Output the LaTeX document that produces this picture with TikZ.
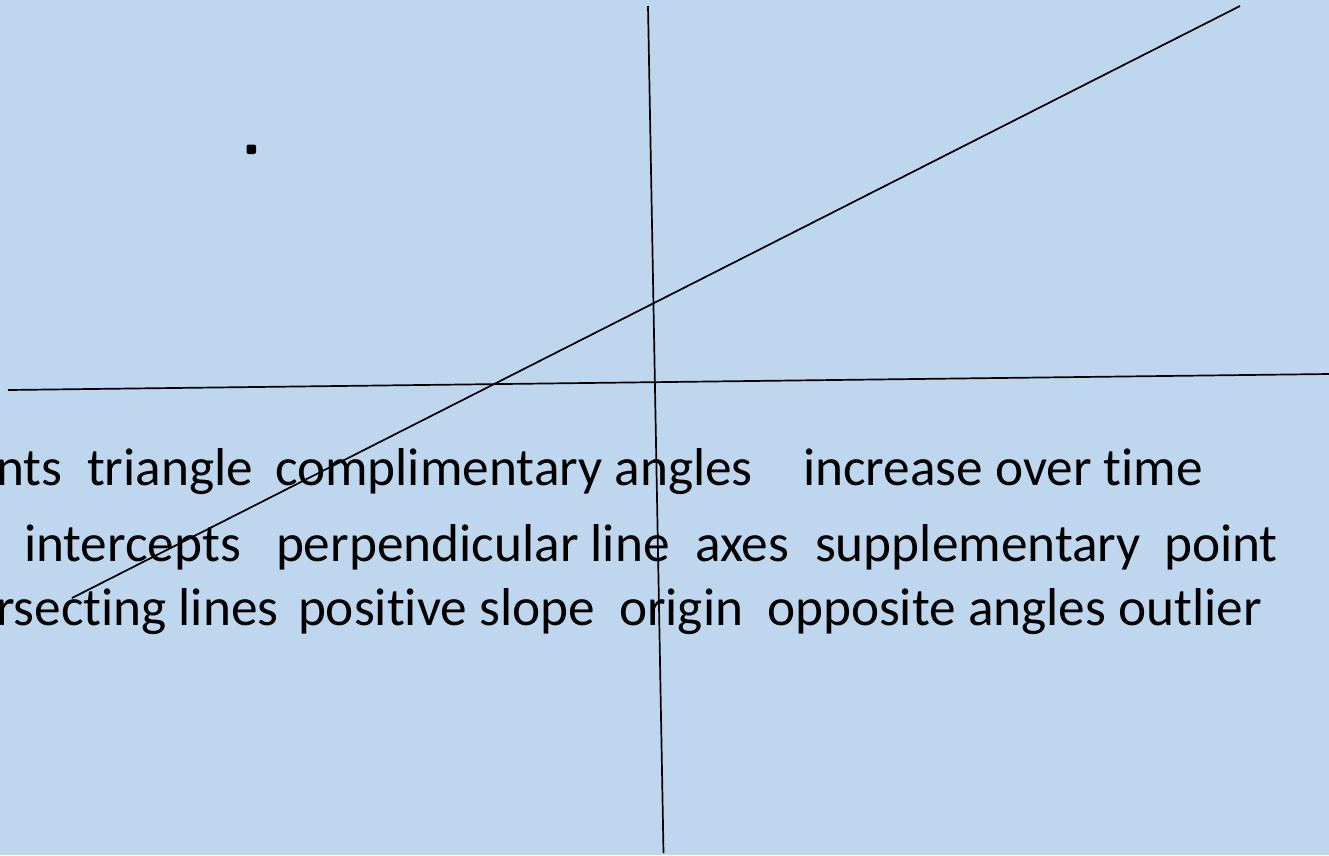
\documentclass[tikz,border=0pt]{standalone}
\usepackage{fontspec}
\setmainfont{Carlito}[Ligatures=NoCommon]
\definecolor{bgblue}{RGB}{190,215,238}
\tikzset{
  word/.style={anchor=base west, inner sep=0pt, outer sep=0pt, font=\fontsize{53.3}{64}\selectfont, text=black},
  thinline/.style={draw=black, line width=1.7pt, line cap=butt}
}
\begin{document}
\begin{tikzpicture}[x=1pt,y=-1pt]
\fill[bgblue] (0,0) rectangle (1329,855);
\useasboundingbox (0,0) rectangle (1329,855);
% text, line 1
\node[word] (w11) at (-4,485) {nts};
\node[word] (w12) at (87,485) {triangle};
\node[word] (w13) at (275,485) {complimentary angles};
\node[word] (w14) at (803,485) {increase over time};
% line 2
\node[word] (w21) at (24,561) {intercepts};
\node[word] (w22) at (276,561) {perpendicular line};
\node[word] (w23) at (695,561) {axes};
\node[word] (w24) at (815,561) {supplementary};
\node[word] (w25) at (1164,561) {point};
% line 3
\node[word] (w31) at (-4,625) {rsecting lines};
\node[word] (w32) at (298,625) {positive slope};
\node[word] (w33) at (619,625) {origin};
\node[word] (w34) at (767,625) {opposite angles outlier};
% lines
\coordinate (h1) at (8,390);
\coordinate (h2) at (1329,374);
\coordinate (v1) at (648,6);
\coordinate (v2) at (663.5,853);
\coordinate (d1) at (1240,6);
\coordinate (d2) at (72,598);
\draw[thinline] (h1) -- (h2);
\draw[thinline] (v1) -- (v2);
\draw[thinline] (d1) -- (d2);
% dot
\fill[black, rounded corners=2pt] (246.5,144.5) rectangle (256,154);
\end{tikzpicture}
\end{document}
